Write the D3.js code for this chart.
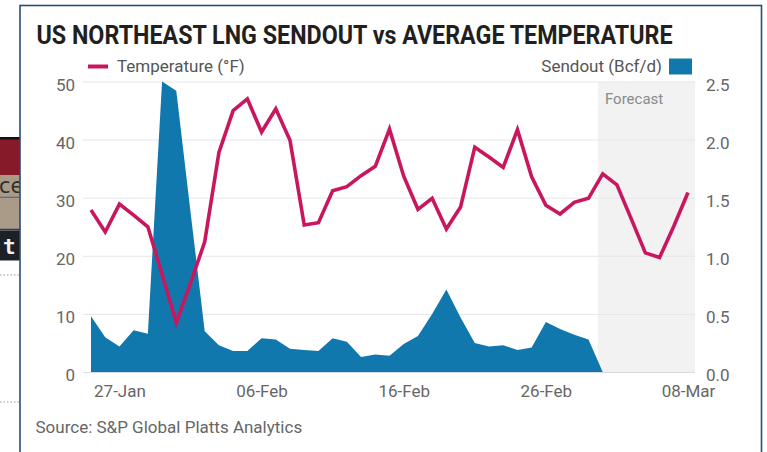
<!DOCTYPE html>
<html>
<head>
<meta charset="utf-8">
<script src="https://cdnjs.cloudflare.com/ajax/libs/d3/7.8.5/d3.min.js"></script>
<style>
    html, body { margin: 0; padding: 0; background: #fff; }
    svg { display: block; font-family: Roboto, "Open Sans", sans-serif; }
</style>
</head>
<body>
<div id="chart"></div>
<script>
// Daily categories, 25-Jan to 08-Mar 2019
const firstDay = "2019-01-25";
const lastDay = "2019-03-08";
const forecastStart = "2019-03-01T16:00";
const tickDates = ["2019-01-27", "2019-02-06", "2019-02-16", "2019-02-26", "2019-03-08"];

// Average temperature (°F), one value per day
const temperature = [
    27.9, 24.1, 28.9, 27.0, 25.0, 16.8, 8.5,
    15.3, 22.4, 37.8, 45.0, 47.0, 41.3, 45.3, 39.9, 25.3, 25.7,
    31.2, 31.9, 33.8, 35.4, 41.8, 33.7, 28.0, 29.9, 24.6, 28.4,
    38.7, 37.0, 35.2, 41.7, 33.6, 28.7, 27.2, 29.2,
    29.9, 34.1, 32.2, 26.4, 20.5, 19.7, 25.1, 30.9
];

// LNG sendout (Bcf/d), actuals only (ends 02-Mar)
const sendout = [
    0.48, 0.30, 0.22, 0.36, 0.33, 2.50, 2.42,
    1.38, 0.35, 0.23, 0.18, 0.18, 0.29, 0.28, 0.20, 0.19, 0.18,
    0.29, 0.26, 0.13, 0.15, 0.14, 0.24, 0.31, 0.50, 0.71, 0.47,
    0.25, 0.22, 0.23, 0.19, 0.21, 0.43, 0.37, 0.32,
    0.28, 0.00
];

const tempTicks = [0, 10, 20, 30, 40, 50];
const sendoutTicks = [0, 0.5, 1.0, 1.5, 2.0, 2.5];

const magenta = "#c8175f";
const blue = "#1178ad";

const width = 767;
const height = 452;
const plotLeft = 83, plotRight = 695;

const parseDay = d3.isoParse;
const days = d3.timeDay.range(parseDay(firstDay), d3.timeDay.offset(parseDay(lastDay), 1));
const tempData = days.map((d, i) => ({ date: d, v: temperature[i] }));
const sendData = sendout.map((v, i) => ({ date: days[i], v: v }));

const svg = d3.select("#chart")
    .append("svg")
    .attr("width", width)
    .attr("height", height);

// leftover bits of the surrounding page at the left edge
const side = svg.append("g");
side.append("rect").attr("x", 0).attr("y", 137).attr("width", 20).attr("height", 3).attr("fill", "#111");
side.append("rect").attr("x", 0).attr("y", 139.5).attr("width", 20).attr("height", 36).attr("fill", "#871a28");
side.append("rect").attr("x", 0).attr("y", 176).attr("width", 20).attr("height", 20.5).attr("fill", "#a99b88");
side.append("rect").attr("x", 0).attr("y", 196.5).attr("width", 20).attr("height", 1.3).attr("fill", "#4a4a4a");
side.append("rect").attr("x", 0).attr("y", 198).attr("width", 20).attr("height", 30.5).attr("fill", "#a99b88");
side.append("rect").attr("x", 0).attr("y", 228.5).attr("width", 20).attr("height", 2).attr("fill", "#3a3a3a");
side.append("rect").attr("x", 0).attr("y", 230.5).attr("width", 20).attr("height", 30).attr("fill", "#1d2026");
side.append("text").attr("x", -1).attr("y", 193).attr("font-size", 21)
    .attr("font-family", "DejaVu Sans").attr("fill", "#2e2e2e").text("ce");
side.append("text").attr("x", 3).attr("y", 254).attr("font-size", 21).attr("font-weight", "bold")
    .attr("font-family", "DejaVu Sans Mono").attr("fill", "#f2f2f2").text("t");
[275, 402].forEach(y => side.append("line")
    .attr("x1", 0).attr("x2", 19).attr("y1", y).attr("y2", y)
    .attr("stroke", "#9a9a9a").attr("stroke-dasharray", "1.5,2"));

// chart frame
svg.append("rect")
    .attr("x", 20).attr("y", 5.5)
    .attr("width", 741.5).attr("height", 470)
    .attr("fill", "#fff")
    .attr("stroke", "#2b4c78")
    .attr("stroke-width", 1.6);

// Scales
const x = d3.scaleTime()
    .domain([parseDay(firstDay), parseDay(lastDay)])
    .range([91, 688]);
const yTemp = d3.scaleLinear().domain([0, 50]).range([372, 81.5]);
const ySend = d3.scaleLinear().domain([0, 2.5]).range([372, 81.5]);

// Forecast band
svg.append("rect")
    .attr("x", x(parseDay(forecastStart)))
    .attr("y", yTemp(50))
    .attr("width", plotRight - x(parseDay(forecastStart)))
    .attr("height", yTemp(0) - yTemp(50))
    .attr("fill", "#f2f2f2");

svg.append("text")
    .attr("x", x(parseDay(forecastStart)) + 7)
    .attr("y", 104)
    .attr("font-size", 15)
    .attr("fill", "#8a8a8a")
    .text("Forecast");

// Gridlines
svg.append("g")
    .selectAll("line")
    .data(tempTicks)
    .enter()
    .append("line")
    .attr("x1", plotLeft)
    .attr("x2", plotRight)
    .attr("y1", d => yTemp(d) + 0.5)
    .attr("y2", d => yTemp(d) + 0.5)
    .attr("stroke", d => d === 0 ? "#d6dde3" : "#e6e6e6")
    .attr("stroke-width", 1);

// Sendout area
svg.append("path")
    .datum(sendData)
    .attr("fill", blue)
    .attr("d", d3.area()
        .x(d => x(d.date))
        .y0(ySend(0))
        .y1(d => ySend(d.v)));

// Temperature line
svg.append("path")
    .datum(tempData)
    .attr("fill", "none")
    .attr("stroke", magenta)
    .attr("stroke-width", 3.6)
    .attr("stroke-linejoin", "miter")
    .attr("d", d3.line()
        .x(d => x(d.date))
        .y(d => yTemp(d.v)));

// Axes
const styleAxis = g => {
    g.select(".domain").remove();
    g.selectAll("text")
        .attr("font-family", "Roboto, sans-serif")
        .attr("font-size", 17)
        .attr("fill", "#666");
};

svg.append("g")
    .attr("transform", `translate(0,372)`)
    .call(d3.axisBottom(x)
        .tickValues(tickDates.map(parseDay))
        .tickFormat(d3.timeFormat("%d-%b"))
        .tickSize(0)
        .tickPadding(13))
    .call(styleAxis);

svg.append("g")
    .attr("transform", `translate(${plotLeft},0)`)
    .call(d3.axisLeft(yTemp)
        .tickValues(tempTicks)
        .tickSize(0)
        .tickPadding(8))
    .call(styleAxis)
    .selectAll("text").attr("dy", "0.5em");

svg.append("g")
    .attr("transform", `translate(${plotRight},0)`)
    .call(d3.axisRight(ySend)
        .tickValues(sendoutTicks)
        .tickFormat(d3.format(".1f"))
        .tickSize(0)
        .tickPadding(11))
    .call(styleAxis)
    .selectAll("text").attr("dy", "0.5em");

// Title
svg.append("text")
    .attr("x", 36.5)
    .attr("y", 43.5)
    .attr("font-size", 25)
    .attr("font-weight", "bold")
    .attr("fill", "#231f20")
    .attr("textLength", 636)
    .attr("lengthAdjust", "spacingAndGlyphs")
    .text("US NORTHEAST LNG SENDOUT vs AVERAGE TEMPERATURE");

// Legend
svg.append("line")
    .attr("x1", 88).attr("x2", 108)
    .attr("y1", 66.5).attr("y2", 66.5)
    .attr("stroke", magenta)
    .attr("stroke-width", 4);
svg.append("text")
    .attr("x", 117).attr("y", 72)
    .attr("font-size", 17).attr("fill", "#555")
    .text("Temperature (°F)");

svg.append("text")
    .attr("x", 662).attr("y", 72)
    .attr("text-anchor", "end")
    .attr("font-size", 17).attr("fill", "#555")
    .text("Sendout (Bcf/d)");
svg.append("rect")
    .attr("x", 669).attr("y", 58.5)
    .attr("width", 23).attr("height", 16)
    .attr("fill", blue);

// Source
svg.append("text")
    .attr("x", 35.5).attr("y", 433)
    .attr("font-size", 17).attr("fill", "#666")
    .text("Source: S&P Global Platts Analytics");
</script>
</body>
</html>
